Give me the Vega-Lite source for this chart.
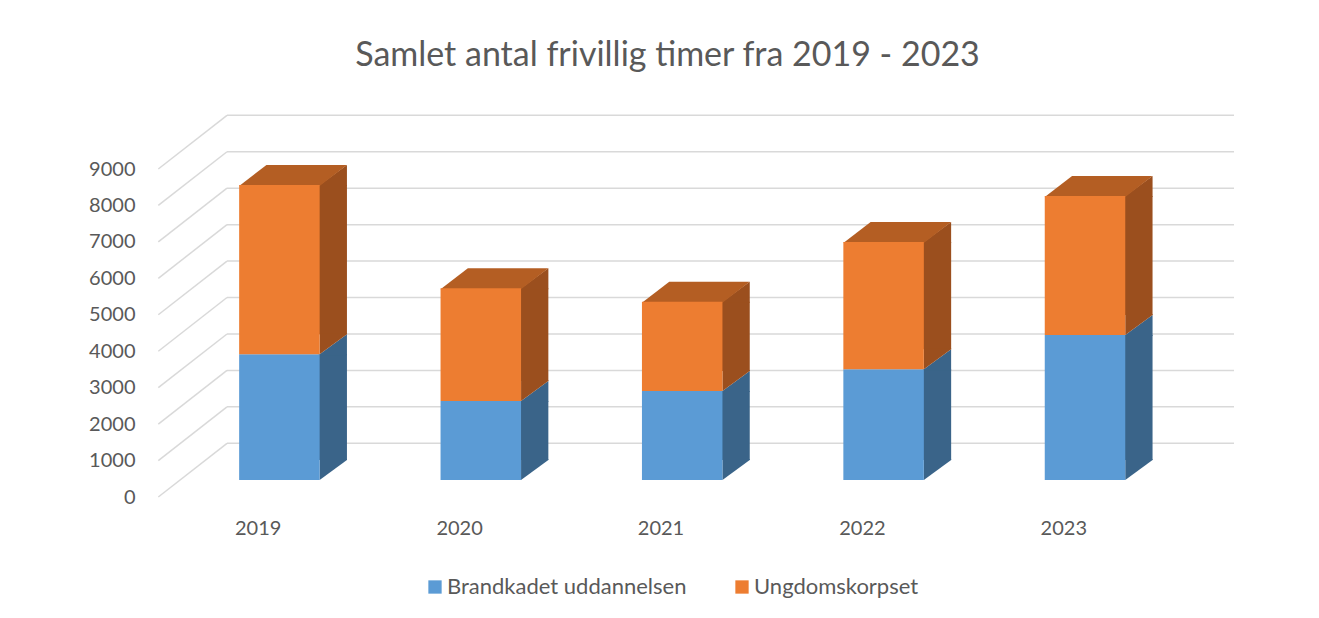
{
  "$schema": "https://vega.github.io/schema/vega-lite/v6.json",
  "width": 1007,
  "height": 328,
  "autosize": {"type": "none"},
  "padding": {"left": 227, "top": 152, "right": 85, "bottom": 138},
  "background": "white",
  "title": {
    "text": "Samlet antal frivillig timer fra 2019 - 2023",
    "font": "Lato",
    "fontSize": 34,
    "fontWeight": "normal",
    "color": "#595959",
    "anchor": "middle",
    "frame": "group",
    "dx": -63,
    "offset": 39
  },
  "datasets": {
    "hours": [
      {"year": "2019", "series": "Brandkadet uddannelsen", "hours": 3450},
      {"year": "2019", "series": "Ungdomskorpset", "hours": 4645},
      {"year": "2020", "series": "Brandkadet uddannelsen", "hours": 2170},
      {"year": "2020", "series": "Ungdomskorpset", "hours": 3090},
      {"year": "2021", "series": "Brandkadet uddannelsen", "hours": 2440},
      {"year": "2021", "series": "Ungdomskorpset", "hours": 2450},
      {"year": "2022", "series": "Brandkadet uddannelsen", "hours": 3040},
      {"year": "2022", "series": "Ungdomskorpset", "hours": 3490},
      {"year": "2023", "series": "Brandkadet uddannelsen", "hours": 3980},
      {"year": "2023", "series": "Ungdomskorpset", "hours": 3815}
    ],
    "ticks": [
      {"tick": 0}, {"tick": 1000}, {"tick": 2000}, {"tick": 3000}, {"tick": 4000},
      {"tick": 5000}, {"tick": 6000}, {"tick": 7000}, {"tick": 8000}, {"tick": 9000}
    ]
  },
  "layer": [
    {
      "data": {"name": "ticks"},
      "mark": {"type": "rule", "color": "#D9D9D9", "strokeWidth": 1.5, "yOffset": -36.7},
      "encoding": {
        "y": {"field": "tick", "type": "quantitative", "title": null, "scale": {"domain": [0, 9000], "nice": false}}
      }
    },
    {
      "data": {"name": "ticks"},
      "mark": {"type": "point", "shape": "M-572.2,17L-503.5,-36.7", "size": 4, "filled": false, "stroke": "#D9D9D9", "strokeWidth": 1.5, "opacity": 1},
      "encoding": {
        "y": {"field": "tick", "type": "quantitative", "title": null, "scale": {"domain": [0, 9000], "nice": false}}
      }
    },
    {
      "data": {"name": "hours"},
      "transform": [
        {"stack": "hours", "groupby": ["year"], "sort": [{"field": "series", "order": "ascending"}], "as": ["v0", "v1"]}
      ],
      "mark": {"type": "bar", "width": 28.3, "xOffset": 5.1, "y2Offset": -20},
      "encoding": {
        "x": {"field": "year", "type": "ordinal", "title": null, "scale": {"paddingInner": 0, "paddingOuter": 0}},
        "y": {"field": "v1", "type": "quantitative", "title": null, "scale": {"domain": [0, 9000], "nice": false}},
        "y2": {"field": "v0"},
        "fill": {"condition": {"test": "datum.series === 'Brandkadet uddannelsen'", "value": "#3A6489"}, "value": "#9B4F1E"}
      }
    },
    {
      "data": {"name": "hours"},
      "transform": [
        {"stack": "hours", "groupby": ["year"], "sort": [{"field": "series", "order": "ascending"}], "as": ["v0", "v1"]}
      ],
      "mark": {"type": "point", "shape": "M-8.05,1L-8.05,0L19.25,-20L19.25,1Z", "size": 4, "filled": true, "opacity": 1, "strokeWidth": 0},
      "encoding": {
        "x": {"field": "year", "type": "ordinal", "title": null, "scale": {"paddingInner": 0, "paddingOuter": 0}},
        "y": {"field": "v1", "type": "quantitative", "title": null, "scale": {"domain": [0, 9000], "nice": false}},
        "fill": {"condition": {"test": "datum.series === 'Brandkadet uddannelsen'", "value": "#3A6489"}, "value": "#9B4F1E"}
      }
    },
    {
      "data": {"name": "hours"},
      "transform": [
        {"stack": "hours", "groupby": ["year"], "sort": [{"field": "series", "order": "ascending"}], "as": ["v0", "v1"]}
      ],
      "mark": {"type": "point", "shape": "M-8.05,-21L-8.05,0L19.25,-20L19.25,-21Z", "size": 4, "filled": true, "opacity": 1, "strokeWidth": 0},
      "encoding": {
        "x": {"field": "year", "type": "ordinal", "title": null, "scale": {"paddingInner": 0, "paddingOuter": 0}},
        "y": {"field": "v0", "type": "quantitative", "title": null, "scale": {"domain": [0, 9000], "nice": false}},
        "fill": {"condition": {"test": "datum.series === 'Brandkadet uddannelsen'", "value": "#3A6489"}, "value": "#9B4F1E"}
      }
    },
    {
      "data": {"name": "hours"},
      "transform": [
        {"stack": "hours", "groupby": ["year"], "sort": [{"field": "series", "order": "ascending"}], "as": ["v0", "v1"]},
        {"filter": "datum.series === 'Ungdomskorpset'"}
      ],
      "mark": {"type": "point", "shape": "M-88.55,1L-8.05,1L19.25,-20L-61.25,-20Z", "size": 4, "filled": true, "opacity": 1, "strokeWidth": 0, "fill": "#B45E23"},
      "encoding": {
        "x": {"field": "year", "type": "ordinal", "title": null, "scale": {"paddingInner": 0, "paddingOuter": 0}},
        "y": {"field": "v1", "type": "quantitative", "title": null, "scale": {"domain": [0, 9000], "nice": false}}
      }
    },
    {
      "data": {"name": "hours"},
      "transform": [
        {"stack": "hours", "groupby": ["year"], "sort": [{"field": "series", "order": "ascending"}], "as": ["v0", "v1"]}
      ],
      "mark": {"type": "bar", "width": 80.5, "xOffset": -48.3},
      "encoding": {
        "x": {"field": "year", "type": "ordinal", "title": null, "scale": {"paddingInner": 0, "paddingOuter": 0}},
        "y": {"field": "v1", "type": "quantitative", "title": null, "scale": {"domain": [0, 9000], "nice": false}},
        "y2": {"field": "v0"},
        "color": {
          "field": "series",
          "type": "nominal",
          "scale": {"domain": ["Brandkadet uddannelsen", "Ungdomskorpset"], "range": ["#5B9BD5", "#ED7D31"]},
          "legend": {
            "orient": "none",
            "legendX": 197,
            "legendY": 424,
            "direction": "horizontal",
            "title": null,
            "symbolType": "square",
            "symbolSize": 177,
            "symbolStrokeWidth": 0,
            "labelFont": "Lato",
            "labelFontSize": 22,
            "labelColor": "#595959",
            "labelOffset": 1,
            "columnPadding": 44,
            "labelLimit": 400
          }
        }
      }
    }
  ],
  "config": {
    "view": {"stroke": null},
    "font": "Lato",
    "numberFormat": "d",
    "axisX": {
      "domain": false,
      "ticks": false,
      "grid": false,
      "labelAngle": 0,
      "labelFont": "Lato",
      "labelFontSize": 20,
      "labelColor": "#595959",
      "labelPadding": 38,
      "labelOffset": -69.5
    },
    "axisY": {
      "domain": false,
      "ticks": false,
      "grid": false,
      "tickCount": 10,
      "labelFont": "Lato",
      "labelFontSize": 20,
      "labelColor": "#595959",
      "labelPadding": 92,
      "labelOffset": 17
    }
  }
}
